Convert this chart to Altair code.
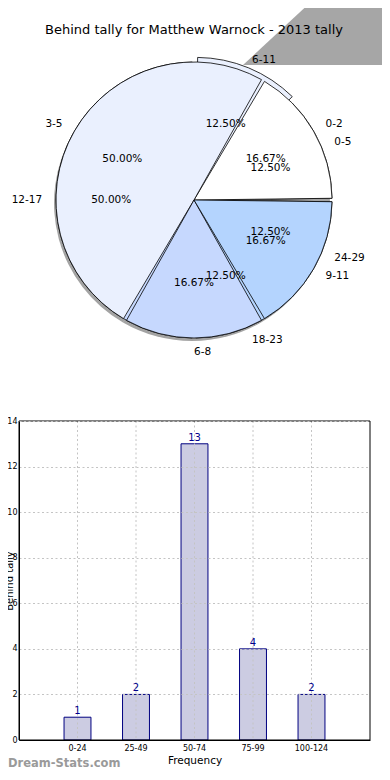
import math
import altair as alt
import pandas as pd

FONT = "DejaVu Sans"

title_text = "Behind tally for Matthew Warnock - 2013 tally"
watermark_text = "Dream-Stats.com"

# Pie drawn on top (6 matches)
pie_top_labels = ["0-2", "3-5", "6-8", "9-11"]
pie_top_counts = [1, 3, 1, 1]
pie_top_colors = ["#ffffff", "#eaf0fe", "#c6d8fe", "#b4d4fe"]

# Pie drawn underneath (8 matches)
pie_under_labels = ["0-5", "6-11", "12-17", "18-23", "24-29"]
pie_under_counts = [1, 1, 4, 1, 1]
pie_under_colors = ["#ffffff", "#eaf0fe", "#c6d8fe", "#b4d4fe", "#ffffff"]

# Bar chart
bar_categories = ["0-24", "25-49", "50-74", "75-99", "100-124"]
bar_values = [1, 2, 13, 4, 2]
y_ticks = [0, 2, 4, 6, 8, 10, 12, 14]
x_title = "Frequency"
y_title = "Behind tally"

# ---- layout (pixels, chart coordinates) ----
W, H = 374, 732
CX, CY, R = 186, 192, 138
PX0, PX1, PY0, PY1 = 11, 362, 413, 732
GRID = "#c4c4c4"

df_top = pd.DataFrame({"label": pie_top_labels, "n": pie_top_counts,
                       "idx": list(range(len(pie_top_labels)))})
df_under = pd.DataFrame({"label": pie_under_labels, "n": pie_under_counts,
                         "idx": list(range(len(pie_under_labels)))})
df_bar = pd.DataFrame({"cat": bar_categories, "n": bar_values})
df_one = pd.DataFrame({"t": [title_text], "w": [watermark_text]})

theta_scale = alt.Scale(domain=[0, 100], range=[math.pi / 2, math.pi / 2 - 2 * math.pi])
color_scale = alt.Scale(domain=pie_top_labels + pie_under_labels,
                        range=pie_top_colors + pie_under_colors)


def pie_base(df):
    return (
        alt.Chart(df)
        .transform_joinaggregate(total="sum(n)")
        .transform_window(cum="sum(n)", sort=[alt.SortField("idx")], frame=[None, 0])
        .transform_calculate(
            start="100 * (datum.cum - datum.n) / datum.total",
            end="100 * datum.cum / datum.total",
            mid="100 * (datum.cum - datum.n / 2) / datum.total",
            pct="format(100 * datum.n / datum.total, '.2f') + '%'",
            ha="cos(2 * PI * (datum.cum - datum.n / 2) / datum.total) >= -0.000001 ? 'left' : 'right'",
        )
    )


def arcs(base, **kw):
    return base.mark_arc(radius=R, **kw).encode(
        theta=alt.Theta("start:Q", stack=False, scale=theta_scale),
        theta2="end:Q",
        x=alt.value(CX),
        y=alt.value(CY),
    )


top_base = pie_base(df_top)
under_base = pie_base(df_under)

shadow = arcs(top_base, fill="#333333", opacity=0.45, xOffset=-2, yOffset=3, strokeWidth=0)

under_arcs = arcs(under_base.transform_filter("datum.label != '6-11'"),
                  stroke="black", strokeWidth=0.8, padAngle=0.025).encode(
    fill=alt.Fill("label:N", scale=color_scale, legend=None))
under_explode = arcs(under_base.transform_filter("datum.label == '6-11'"),
                     stroke="black", strokeWidth=0.8, padAngle=0.025,
                     xOffset=1.9, yOffset=-4.6).encode(
    fill=alt.Fill("label:N", scale=color_scale, legend=None))
top_arcs = arcs(top_base, stroke="black", strokeWidth=0.8, padAngle=0.025).encode(
    fill=alt.Fill("label:N", scale=color_scale, legend=None))


def pct_text(base):
    return base.mark_text(radius=0.6 * R, font=FONT, fontSize=10.5, color="black",
                          baseline="middle").encode(
        theta=alt.Theta("mid:Q", stack=False, scale=theta_scale),
        text="pct:N",
        x=alt.value(CX),
        y=alt.value(CY),
    )


def label_text(base, side):
    return base.transform_filter(f"datum.ha == '{side}'").mark_text(
        radius=1.1 * R, font=FONT, fontSize=10.5, color="black",
        align=side, baseline="middle").encode(
        theta=alt.Theta("mid:Q", stack=False, scale=theta_scale),
        text="label:N",
        x=alt.value(CX),
        y=alt.value(CY),
    )


banner = alt.Chart(df_one).mark_point(
    shape="M-1,0.442L-0.048,-0.442L1,-0.442L1,0.442Z", size=147 * 147,
    filled=True, fill="#a6a6a6", opacity=1, strokeWidth=0,
).encode(x=alt.value(308.5), y=alt.value(24.5))

title = alt.Chart(df_one).mark_text(font=FONT, fontSize=13, color="black",
                                    align="center", baseline="middle").encode(
    text="t:N", x=alt.value(CX), y=alt.value(22))

watermark = alt.Chart(df_one).mark_text(font=FONT, fontSize=11.5, color="#9a9a9a",
                                        fontWeight="bold", align="left",
                                        baseline="middle").encode(
    text="w:N", x=alt.value(0), y=alt.value(756))

# ---- bar chart ----
x_scale = alt.Scale(domain=bar_categories, range=[PX0, PX1],
                    paddingInner=0.54, paddingOuter=0.77)
y_scale = alt.Scale(domain=[0, 14], range=[PY1, PY0], nice=False)

x_axis = alt.Axis(title=x_title, labelAngle=0, labelFont=FONT, labelFontSize=8,
                  labelColor="black", labelPadding=4, ticks=False,
                  titleFont=FONT, titleFontSize=10.5, titleFontWeight="normal",
                  titleColor="black", titlePadding=3, domainColor="black",
                  grid=False, zindex=1)
y_axis = alt.Axis(title=y_title, values=y_ticks, offset=-PX0, labelFont=FONT,
                  labelFontSize=8, labelColor="black", labelPadding=2, ticks=False,
                  titleFont=FONT, titleFontSize=10, titleFontWeight="normal",
                  titleColor="black", titleX=-7, titleBaseline="alphabetic",
                  domainColor="black", grid=True, gridColor=GRID,
                  gridDash=[2, 2.5], zindex=1)

bars = alt.Chart(df_bar).mark_bar(fill="#ccccE2", stroke="#000080", strokeWidth=1).encode(
    x=alt.X("cat:N", sort=bar_categories, scale=x_scale, axis=x_axis),
    y=alt.Y("n:Q", scale=y_scale, axis=y_axis),
)
vgrid = alt.Chart(df_bar).mark_rule(color=GRID, strokeDash=[2, 2.5], strokeWidth=1).encode(
    x=alt.X("cat:N", sort=bar_categories),
    y=alt.value(PY0),
    y2=alt.value(PY1),
)
bar_labels = alt.Chart(df_bar).mark_text(font=FONT, fontSize=10, color="#00008b",
                                         baseline="bottom", dy=-1).encode(
    x=alt.X("cat:N", sort=bar_categories),
    y=alt.Y("n:Q"),
    text="n:Q",
)
frame = alt.Chart(df_one).mark_rect(fillOpacity=0, stroke="black", strokeWidth=1).encode(
    x=alt.value(PX0), x2=alt.value(PX1), y=alt.value(PY0), y2=alt.value(PY1))

chart = alt.layer(
    banner, title,
    shadow, under_arcs, under_explode, top_arcs,
    pct_text(under_base), pct_text(top_base),
    label_text(under_base, "left"), label_text(under_base, "right"),
    label_text(top_base, "left"), label_text(top_base, "right"),
    bars, vgrid, bar_labels, frame, watermark,
).properties(
    width=W, height=H,
    padding={"left": 0, "top": 0, "right": 0, "bottom": 32},
    autosize=alt.AutoSizeParams(type="none"),
).configure_view(stroke=None)

chart.save("out.html", embed_options={"renderer": "svg", "actions": False})
